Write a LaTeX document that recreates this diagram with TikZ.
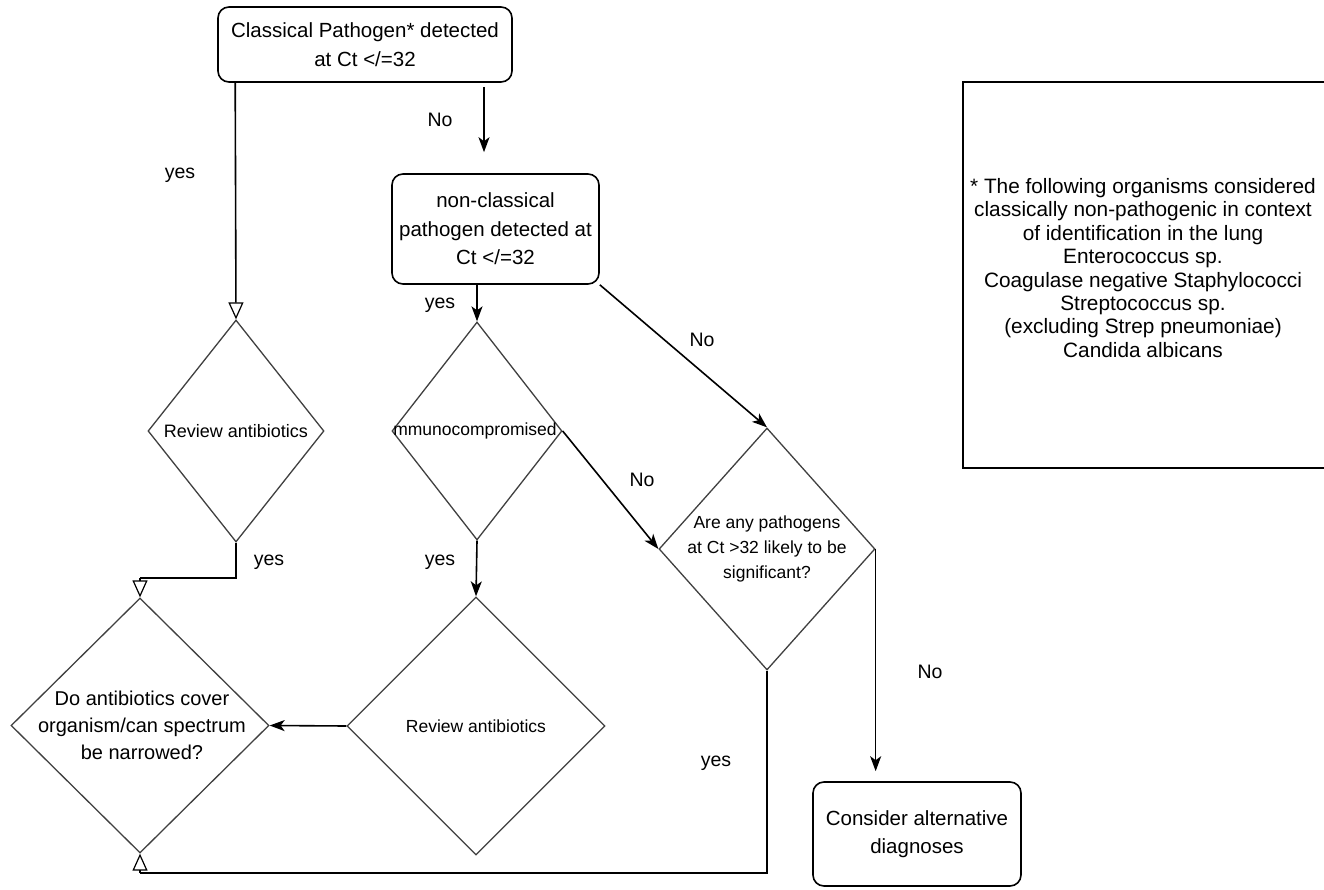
\documentclass[tikz,border=0pt]{standalone}
\usepackage{fontspec}
\setmainfont{Liberation Sans}
\usetikzlibrary{shapes.geometric,arrows.meta}
\begin{document}
\begin{tikzpicture}[x=1pt,y=-1pt,
  line width=1.6pt,
  box/.style={draw, line width=1.6pt, rounded corners=11pt, align=center, inner sep=0pt},
  dia/.style={draw=black!75, diamond, inner sep=0pt, line width=1.3pt},
  arr/.style={-{Stealth[length=15pt,width=11pt,inset=4pt]}},
  oarr/.style={-{Triangle[open,length=17pt,width=15pt,line width=1.2pt]}},
  lbl/.style={font=\fontsize{19.5}{22}\selectfont},
  big/.style={font=\fontsize{20.5}{28.5}\selectfont, align=center},
  small/.style={font=\fontsize{17.5}{25}\selectfont, align=center},
]
\useasboundingbox (0,0) rectangle (1324,890);
\fill[white] (0,0) rectangle (1324,890);

% boxes
\node[box, big, minimum width=294pt, minimum height=75pt] (c1) at (365,44.5) {Classical Pathogen* detected\\at Ct </=32};
\node[box, big, minimum width=207pt, minimum height=110pt] (nc) at (495.5,229) {non-classical\\pathogen detected at\\Ct </=32};
\node[box, big, minimum width=208pt, minimum height=104pt] (cons) at (917,834) {Consider alternative\\diagnoses};

% diamonds
\node[dia, minimum width=176pt, minimum height=222pt] (r1) at (236,431) {};
\node[small, font=\fontsize{18}{25}\selectfont] (r1t) at (r1) {Review antibiotics};
\node[dia, minimum width=170pt, minimum height=218pt] (imm) at (477,431) {};
\node[small] (immt) at (475,431) {mmunocompromised};
\node[dia, minimum width=216pt, minimum height=242pt] (r3) at (767,549) {};
\node[small] (r3t) at (r3) {Are any pathogens\\at Ct >32 likely to be\\significant?};
\node[dia, minimum width=258pt, minimum height=258pt] (r2) at (476,726) {};
\node[small] (r2t) at (r2) {Review antibiotics};
\node[dia, minimum width=258pt, minimum height=255pt] (d) at (140,725.5) {};
\node[font=\fontsize{20}{27}\selectfont, align=center] (dt) at (142,725) {Do antibiotics cover\\organism/can spectrum\\be narrowed?};

% note
\node[draw, line width=1.6pt, minimum width=364pt, minimum height=386pt, inner sep=0pt] (note) at (1145,275) {};
\node[font=\fontsize{20.8}{23.4}\selectfont, align=center] (notet) at (1143,268) {* The following organisms considered\\classically non-pathogenic in context\\of identification in the lung\\Enterococcus sp.\\Coagulase negative Staphylococci\\Streptococcus sp.\\(excluding Strep pneumoniae)\\Candida albicans};

% coordinates for bends
\coordinate (b1) at (140,578);
\coordinate (b2) at (140,873);

% connectors
\draw[oarr] ([xshift=18pt]c1.south west) -- (r1.north);
\draw[arr] ([xshift=119pt,yshift=-4pt]c1.south) -- ([xshift=-11.5pt,yshift=21pt]nc.north);
\draw[arr] (nc.south -| imm.north) -- (imm.north);
\draw[arr] (nc.south east) -- (r3.north);
\draw[arr] (imm.east) -- (r3.west);
\draw[arr] (imm.south) -- (r2.north);
\draw (r1.south) |- (b1);
\draw[oarr] (b1) -- (d.north);
\draw[arr] (r2.west) -- (d.east);
\draw (r3.south) |- (b2);
\draw[oarr] (b2) -- (d.south);
\draw[arr] (r3.east) -- ([yshift=10pt]r3.east |- cons.north);

% labels
\node[lbl] (l1) at (180,175) {yes};
\node[lbl] (l2) at (440,120) {No};
\node[lbl] (l3) at (440,305) {yes};
\node[lbl] (l4) at (702,340) {No};
\node[lbl] (l5) at (642,480) {No};
\node[lbl] (l6) at (440,562) {yes};
\node[lbl] (l7) at (269,562) {yes};
\node[lbl] (l8) at (930,672) {No};
\node[lbl] (l9) at (716,763) {yes};
\end{tikzpicture}
\end{document}
